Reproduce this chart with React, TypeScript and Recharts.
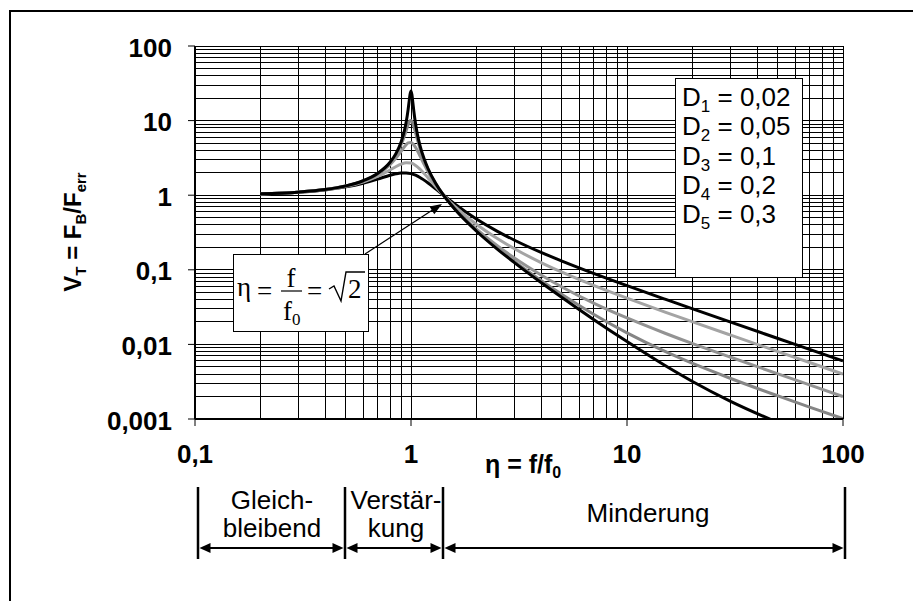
import React from 'react';
import { LineChart, Line, XAxis, YAxis, CartesianGrid } from 'recharts';

// frequency ratio eta = f/f0 at which each curve is sampled
const etaWide = [0.2, 0.3, 0.4, 0.5, 0.6, 0.7, 0.8, 0.85, 0.9, 0.95, 1, 1.05, 1.1, 1.2, 1.3, 1.414, 1.6, 2, 2.5, 3, 4, 5, 7, 10, 15, 20, 30, 50, 70, 100];
const etaMid = [0.2, 0.3, 0.4, 0.5, 0.6, 0.7, 0.8, 0.85, 0.9, 0.93, 0.95, 0.97, 1, 1.03, 1.05, 1.1, 1.15, 1.2, 1.3, 1.414, 1.6, 2, 2.5, 3, 4, 5, 7, 10, 15, 20, 30, 50, 70, 100];
const etaNarrow = [0.2, 0.3, 0.4, 0.5, 0.6, 0.7, 0.8, 0.85, 0.9, 0.93, 0.95, 0.97, 0.98, 0.99, 1, 1.01, 1.02, 1.03, 1.05, 1.07, 1.1, 1.15, 1.2, 1.3, 1.414, 1.6, 2, 2.5, 3, 4, 5, 7, 10, 15, 20, 30, 50, 70, 100];

// V_T = F_B / F_err for each damping ratio
const vD1 = [1.042, 1.099, 1.190, 1.333, 1.562, 1.959, 2.768, 3.579, 5.175, 7.141, 9.563, 14.16, 17.96, 22.58, 25.02, 22.18, 17.43, 13.61, 9.036, 6.625, 4.665, 3.073, 2.262, 1.447, 1.0, 0.642, 0.334, 0.191, 0.126, 0.0675, 0.0425, 0.0216, 0.0109, 0.00521, 0.00321, 0.00174, 0.000895];
const vD2 = [1.042, 1.099, 1.190, 1.332, 1.559, 1.947, 2.720, 3.458, 4.776, 6.123, 7.379, 8.845, 9.506, 9.951, 10.05, 9.760, 9.162, 8.401, 6.853, 5.583, 4.244, 2.940, 2.208, 1.436, 1.0, 0.646, 0.339, 0.196, 0.130, 0.0718, 0.0466, 0.0254, 0.0143, 0.00805, 0.00560, 0.00352, 0.00204, 0.00144, 0.00101];
const vD3 = [1.042, 1.099, 1.189, 1.328, 1.547, 1.909, 2.571, 3.117, 3.882, 4.425, 4.766, 5.023, 5.099, 4.753, 4.373, 3.367, 2.590, 2.052, 1.401, 1.0, 0.659, 0.356, 0.212, 0.145, 0.0853, 0.0589, 0.0358, 0.0226, 0.0141, 0.0103, 0.00677, 0.00402, 0.00287, 0.00200];
const vD4 = [1.041, 1.097, 1.184, 1.314, 1.505, 1.785, 2.180, 2.407, 2.611, 2.727, 2.693, 2.509, 2.241, 1.704, 1.305, 1.0, 0.704, 0.412, 0.265, 0.193, 0.125, 0.0928, 0.0618, 0.0416, 0.0271, 0.0202, 0.0134, 0.00801, 0.00572, 0.00400];
const vD5 = [1.041, 1.095, 1.177, 1.293, 1.447, 1.642, 1.849, 1.933, 1.985, 1.991, 1.944, 1.852, 1.730, 1.460, 1.218, 1.0, 0.757, 0.483, 0.330, 0.251, 0.171, 0.131, 0.0896, 0.0613, 0.0404, 0.0302, 0.0200, 0.0120, 0.00858, 0.00600];

const legendLines = [
  { sub: '1', value: '0,02' },
  { sub: '2', value: '0,05' },
  { sub: '3', value: '0,1' },
  { sub: '4', value: '0,2' },
  { sub: '5', value: '0,3' },
];

const zip = (eta: number[], v: number[]) => v.map((val, i) => ({ x: eta[i], v: val }));

const series = [
  { key: 'D5', data: zip(etaWide, vD5), color: '#000000' },
  { key: 'D4', data: zip(etaWide, vD4), color: '#a4a4a4' },
  { key: 'D3', data: zip(etaMid, vD3), color: '#939393' },
  { key: 'D2', data: zip(etaNarrow, vD2), color: '#858585' },
  { key: 'D1', data: zip(etaNarrow, vD1), color: '#000000' },
];

// log grid: 1..9 in every decade
const logSteps = (from: number, to: number) => {
  const out: number[] = [];
  for (let e = from; e < to; e++) {
    for (let m = 1; m <= 9; m++) out.push(Number((m * 10 ** e).toPrecision(6)));
  }
  out.push(10 ** to);
  return out;
};
const xGrid = logSteps(-1, 2);
const yGrid = logSteps(-3, 2);

const isDecade = (v: number) => Math.abs(Math.log10(v) - Math.round(Math.log10(v))) < 1e-6;
const fmt = (v: number) => String(v).replace('.', ',');

const sans = '"Liberation Sans", Arial, Helvetica, sans-serif';
const serif = '"Liberation Serif", "Times New Roman", serif';

const XTick = (props: any) => {
  const { x, y, payload } = props;
  if (!isDecade(payload.value)) return <g />;
  return (
    <g>
      <line x1={x} x2={x} y1={y - 7} y2={y} stroke="#000" />
      <text x={x} y={y + 37} textAnchor="middle" fontFamily={sans} fontWeight="bold" fontSize={26} fill="#000">
        {fmt(payload.value)}
      </text>
    </g>
  );
};

const YTick = (props: any) => {
  const { x, y, payload } = props;
  if (!isDecade(payload.value)) return <g />;
  return (
    <g>
      <line x1={x} x2={x + 7} y1={y} y2={y} stroke="#000" />
      <text x={x - 16} y={y + 10.5} textAnchor="end" fontFamily={sans} fontWeight="bold" fontSize={26} fill="#000">
        {fmt(payload.value)}
      </text>
    </g>
  );
};

const HArrow = ({ x1, x2, y }: { x1: number; x2: number; y: number }) => {
  const len = 11;
  const h = 5;
  const a = x1 + 1.5;
  const b = x2 - 1.5;
  return (
    <g>
      <line x1={a + len - 1} x2={b - len + 1} y1={y} y2={y} stroke="#000" strokeWidth={2} />
      <polygon points={`${a},${y} ${a + len},${y - h} ${a + len},${y + h}`} fill="#000" />
      <polygon points={`${b},${y} ${b - len},${y - h} ${b - len},${y + h}`} fill="#000" />
    </g>
  );
};

const bars = [198, 345, 443, 845];

export default function App() {
  return (
    <div style={{ position: 'absolute', left: 0, top: 0, width: 913, height: 601, background: '#fff' }}>
      <LineChart width={913} height={601} margin={{ top: 46, right: 70, bottom: 142, left: 95 }}>
        <CartesianGrid stroke="#000" strokeWidth={1} shapeRendering="crispEdges" />
        <XAxis
          dataKey="x"
          type="number"
          scale="log"
          domain={[0.1, 100]}
          allowDataOverflow
          ticks={xGrid}
          interval={0}
          height={40}
          tickSize={7}
          tickMargin={0}
          tickLine={false}
          tick={<XTick />}
          axisLine={{ stroke: '#000', strokeWidth: 2 }}
        />
        <YAxis
          dataKey="v"
          type="number"
          scale="log"
          domain={[0.001, 100]}
          allowDataOverflow
          ticks={yGrid}
          interval={0}
          width={100}
          tickSize={7}
          tickMargin={0}
          tickLine={false}
          tick={<YTick />}
          axisLine={{ stroke: '#000', strokeWidth: 2 }}
        />
        {series.map((s) => (
          <Line
            key={s.key}
            data={s.data}
            dataKey="v"
            type="monotone"
            stroke={s.color}
            strokeWidth={3}
            dot={false}
            isAnimationActive={false}
          />
        ))}
      </LineChart>

      <svg width={913} height={601} style={{ position: 'absolute', left: 0, top: 0, pointerEvents: 'none' }}>
        {/* frame */}
        <path d="M10 601 V11 H913" fill="none" stroke="#000" strokeWidth={2} />

        {/* axis titles */}
        <text transform="translate(81,232) rotate(-90)" textAnchor="middle" fontFamily={sans} fontWeight="bold" fontSize={24} fill="#000">
          V<tspan fontSize={15} dy={5}>T</tspan>
          <tspan dy={-5}> = F</tspan>
          <tspan fontSize={15} dy={5}>B</tspan>
          <tspan dy={-5}>/F</tspan>
          <tspan fontSize={15} dy={5}>err</tspan>
        </text>
        <text x={485} y={473} fontFamily={sans} fontWeight="bold" fontSize={25} fill="#000">
          η = f/f<tspan fontSize={16} dy={5}>0</tspan>
        </text>

        {/* damping legend */}
        <rect x={675.5} y={78.5} width={127} height={199} fill="#fff" stroke="#000" strokeWidth={1} />
        {legendLines.map((l, i) => (
          <text key={l.sub} x={682} y={106 + i * 29.3} fontFamily={sans} fontSize={26} fill="#000">
            D<tspan fontSize={17} dy={6}>{l.sub}</tspan>
            <tspan dy={-6}> = {l.value}</tspan>
          </text>
        ))}

        {/* eta = sqrt(2) note with arrow to the crossing point */}
        <line x1={365} y1={254} x2={434} y2={209} stroke="#000" strokeWidth={1.2} />
        <polygon points="442,204 434.3,214.2 429.5,206.6" fill="#000" />
        <rect x={233.5} y={254.5} width={135} height={77} fill="#fff" stroke="#000" strokeWidth={1} />
        <g fontFamily={serif} fontSize={27} fill="#000">
          <text x={237} y={296}>η</text>
          <text x={257} y={300}>=</text>
          <text x={291} y={287} textAnchor="middle">f</text>
          <line x1={281} x2={302} y1={291} y2={291} stroke="#000" strokeWidth={1.2} />
          <text x={283} y={320}>
            f<tspan fontSize={17} dy={5}>0</tspan>
          </text>
          <text x={307} y={300}>=</text>
          <polyline points="329,289 334,286 341,301 346,272 365,272" fill="none" stroke="#000" strokeWidth={1.4} />
          <text x={348} y={298}>2</text>
        </g>

        {/* ranges below the axis */}
        {bars.map((x) => (
          <line key={x} x1={x} x2={x} y1={487} y2={559} stroke="#000" strokeWidth={2.5} />
        ))}
        {bars.slice(0, -1).map((x, i) => (
          <HArrow key={x} x1={x} x2={bars[i + 1]} y={548} />
        ))}
        <g fontFamily={sans} fontSize={26} fill="#000" textAnchor="middle">
          <text x={272} y={509}>Gleich-</text>
          <text x={272} y={537}>bleibend</text>
          <text x={396} y={509}>Verstär-</text>
          <text x={396} y={537}>kung</text>
          <text x={648} y={522}>Minderung</text>
        </g>
      </svg>
    </div>
  );
}
